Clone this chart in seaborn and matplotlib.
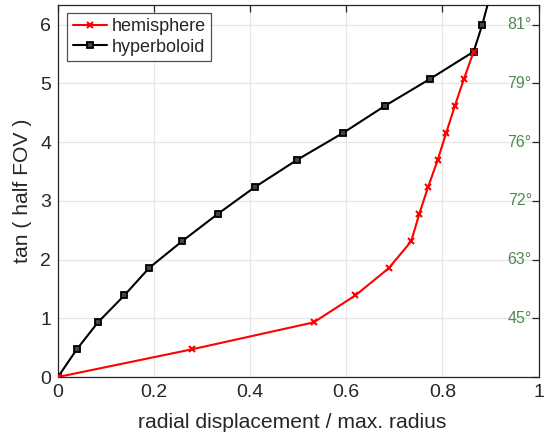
import numpy as np
import pandas as pd
import matplotlib
matplotlib.use("Agg")
import matplotlib.pyplot as plt
import matplotlib.transforms as mtransforms
import seaborn as sns

# data
hemi_x = [0.0, 0.278, 0.532, 0.619, 0.688, 0.735, 0.752, 0.770, 0.790, 0.808, 0.826, 0.845, 0.865]
hemi_y = [0.0, 0.47, 0.93, 1.39, 1.85, 2.31, 2.78, 3.23, 3.69, 4.16, 4.62, 5.08, 5.54]
hyp_x = [0.0, 0.039, 0.083, 0.138, 0.190, 0.258, 0.333, 0.409, 0.498, 0.594, 0.681, 0.775, 0.865, 0.883, 0.898]
hyp_y = [0.0, 0.47, 0.93, 1.39, 1.86, 2.31, 2.78, 3.23, 3.70, 4.16, 4.62, 5.08, 5.54, 6.00, 6.46]
x_ticks = [0, 0.2, 0.4, 0.6, 0.8, 1]
x_tick_labels = ["0", "0.2", "0.4", "0.6", "0.8", "1"]
y_ticks = [0, 1, 2, 3, 4, 5, 6]
angle_pos = [1, 2, 3, 4, 5, 6]
angle_labels = ["45°", "63°", "72°", "76°", "79°", "81°"]

sns.set_style("white")
plt.rcParams['font.family'] = ['Liberation Sans', 'DejaVu Sans']

fig = plt.figure(figsize=(5.49, 4.36), dpi=100)
ax = fig.add_axes([58/549, 1-377/436, 480.5/549, 372.3/436])

axis_col = '#262626'
df_h = pd.DataFrame({'x': hemi_x, 'y': hemi_y})
df_p = pd.DataFrame({'x': hyp_x, 'y': hyp_y})
sns.lineplot(data=df_h, x='x', y='y', ax=ax, color='#ff0000', lw=1.5, marker='x',
             markersize=4.5, markeredgewidth=1.5, markeredgecolor='#ff0000', sort=False,
             label='hemisphere', zorder=4)
sns.lineplot(data=df_p, x='x', y='y', ax=ax, color='black', lw=1.5, marker='s',
             markersize=4, markeredgewidth=1.3, markerfacecolor='#444444', markeredgecolor='black',
             sort=False, label='hyperboloid', zorder=3)

ax.set_xlim(0, 1)
ax.set_ylim(0, 6.34)
ax.set_xticks(x_ticks)
ax.set_xticklabels(x_tick_labels)
ax.set_yticks(y_ticks)
ax.grid(True, color='#e6e6e6', lw=0.9)
ax.set_axisbelow(True)
for s in ax.spines.values():
    s.set_color(axis_col)
    s.set_linewidth(0.9)
    s.set_visible(True)
ax.tick_params(axis='both', direction='in', length=5, width=0.9, color=axis_col,
               labelsize=14, labelcolor=axis_col, top=True, right=True, pad=5)
ax.set_xlabel('radial displacement / max. radius', fontsize=15.2, color=axis_col)
ax.set_ylabel('tan ( half FOV )', fontsize=15.2, color=axis_col)
ax.xaxis.set_label_coords(0.487, -0.097)
ax.yaxis.set_label_coords(-0.054, 0.5)

trans = mtransforms.blended_transform_factory(ax.transAxes, ax.transData)
for p, l in zip(angle_pos, angle_labels):
    ax.text(0.986, p, l, transform=trans, ha='right', va='center', fontsize=11.5, color='#4e8b4e')

leg = ax.legend(loc='upper left', bbox_to_anchor=(0.019, 0.978), fontsize=13, frameon=True,
                fancybox=False, edgecolor=axis_col, handlelength=1.9, borderpad=0.3,
                labelspacing=0.18, handletextpad=0.25, borderaxespad=0)
leg.get_frame().set_linewidth(0.9)

fig.savefig('out.png', dpi=100)
